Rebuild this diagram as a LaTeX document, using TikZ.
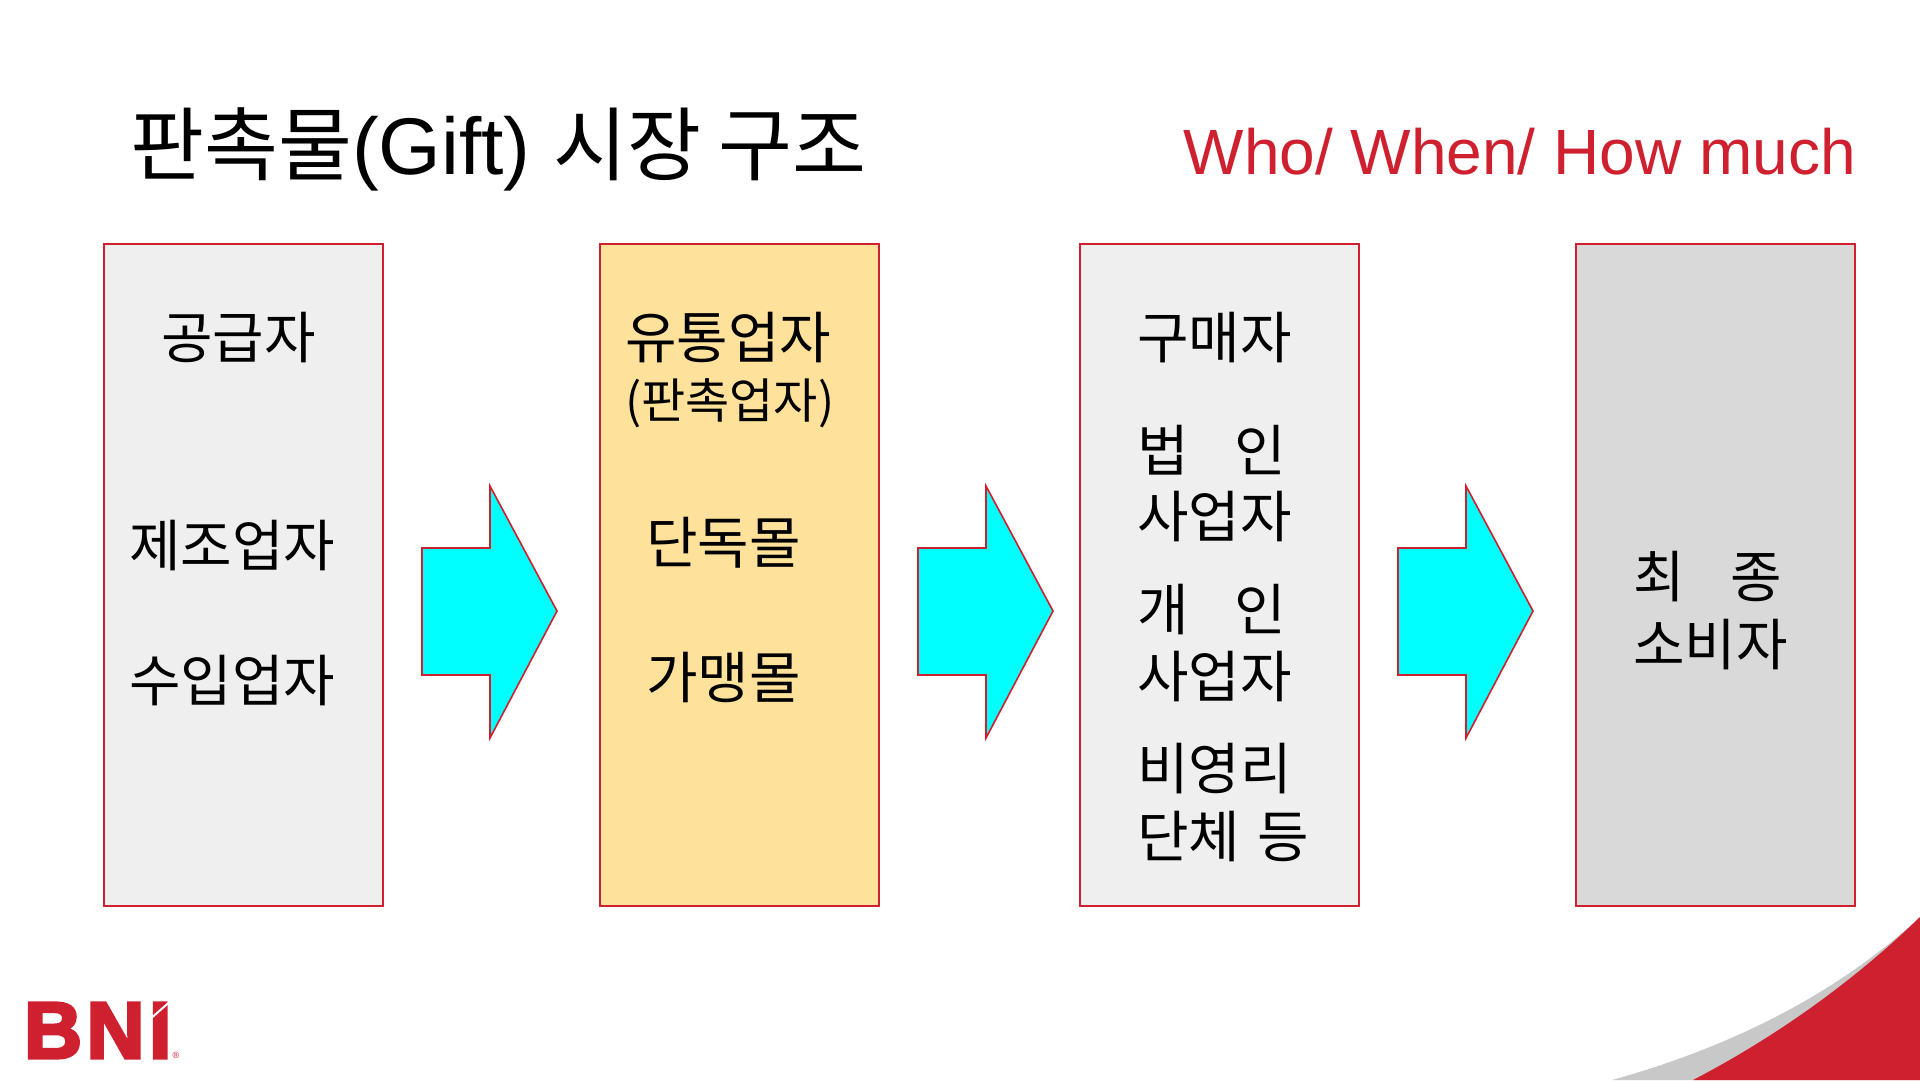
\documentclass[tikz,border=0pt]{standalone}
\usepackage{fontspec}
\setmainfont{Liberation Sans}
\newfontfamily\krfont{Noto Sans CJK KR}
\newfontfamily\logofont[FakeBold=4, LetterSpace=6]{Liberation Sans Bold}
\usepackage{xcolor}
\usetikzlibrary{calc}
\definecolor{bnired}{HTML}{CF2030}
\definecolor{boxgray}{HTML}{EFEFEF}
\definecolor{boxyellow}{HTML}{FEE19A}
\definecolor{boxdark}{HTML}{D9D9D9}
\definecolor{swoosh}{HTML}{C8C8C8}
\definecolor{arrowcyan}{HTML}{00FFFF}
\tikzstyle{box} = [draw=bnired, line width=1.6pt, minimum width=279pt, minimum height=662pt, inner sep=0pt]
\tikzstyle{blockarrow} = [draw=bnired, line width=1.6pt, fill=arrowcyan, line join=miter]
\tikzstyle{label} = [inner sep=0pt, anchor=west, font=\krfont\fontsize{56}{60}\selectfont]
\tikzstyle{smalllabel} = [inner sep=0pt, anchor=west, font=\krfont\fontsize{48}{50}\selectfont]
\newcommand{\gap}{\hspace*{0.82em}}

\begin{document}
\begin{tikzpicture}[x = 1pt, y = -1pt]
	\useasboundingbox (0, 0) rectangle (1920, 1080) ;
	
	\fill[swoosh] (1612, 1080) .. controls (1720, 1050) and (1830, 1000) .. (1920, 917) -- (1920, 1080) -- cycle ;
	\fill[bnired] (1693, 1080) .. controls (1770, 1040) and (1850, 985) .. (1920, 917) -- (1920, 1080) -- cycle ;
	
	\node[anchor=base west, inner sep=0pt, font=\fontsize{80.4}{84}\selectfont] (title) at (130, 174) {{\krfont 판촉물}(Gift) {\krfont 시장 구조}} ;
	\node[anchor=base east, inner sep=0pt, text=bnired, font=\fontsize{64}{70}\selectfont] (question) at (1856, 174) {Who/ When/ How much} ;
	
	\node[box, fill=boxgray] (supplier) at (243.5, 575) {} ;
	\node[box, fill=boxyellow] (distributor) at (739.5, 575) {} ;
	\node[box, fill=boxgray] (buyer) at (1219.5, 575) {} ;
	\node[box, fill=boxdark] (consumer) at (1715.5, 575) {} ;
	
	\foreach \x in {422, 918, 1398}
	{
		\draw[blockarrow] (\x, 548) -- (\x + 68, 548) -- (\x + 68, 486) -- (\x + 135, 611) -- (\x + 68, 738) -- (\x + 68, 675) -- (\x, 675) -- cycle ;
	}
	
	\node[label] (s1) at (161, 338) {공급자} ;
	\node[label] (s2) at (129, 546) {제조업자} ;
	\node[label] (s3) at (129, 681) {수입업자} ;
	
	\node[label] (d1) at (625, 338) {유통업자} ;
	\node[smalllabel] (d2) at (625, 403) {(판촉업자)} ;
	\node[label] (d3) at (646, 543) {단독몰} ;
	\node[label] (d4) at (646, 677) {가맹몰} ;
	
	\node[label] (b1) at (1137, 338) {구매자} ;
	\node[label] (b2) at (1137, 450) {법\gap 인} ;
	\node[label] (b3) at (1137, 517) {사업자} ;
	\node[label] (b4) at (1137, 610) {개\gap 인} ;
	\node[label] (b5) at (1137, 677) {사업자} ;
	\node[label] (b6) at (1137, 769) {비영리} ;
	\node[label] (b7) at (1137, 837) {단체\hspace*{0.08em} 등} ;
	
	\node[label] (c1) at (1633, 577) {최\gap 종} ;
	\node[label] (c2) at (1633, 645) {소비자} ;
	
	\node[anchor=base west, inner sep=0pt, text=bnired, font=\logofont\fontsize{80}{80}\selectfont] (logo) at (24, 1058) {BNI} ;
	\draw[white, line width=2pt] (148, 1021) -- (174, 998) ;
	\node[anchor=center, inner sep=0pt, text=bnired, font=\fontsize{9}{9}\selectfont] (mark) at (176, 1055) {®} ;
\end{tikzpicture}
\end{document}
